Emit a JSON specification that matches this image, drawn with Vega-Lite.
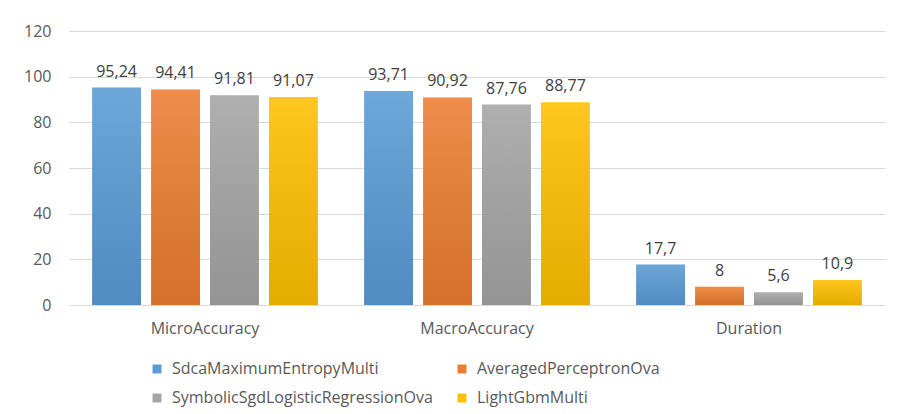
{
  "$schema": "https://vega.github.io/schema/vega-lite/v6.json",
  "autosize": "none",
  "padding": {"left": 69, "top": 31, "right": 13, "bottom": 109},
  "width": 816,
  "height": 274,
  "background": "white",
  "config": {
    "view": {"stroke": null},
    "font": "Open Sans",
    "locale": {"number": {"decimal": ",", "thousands": ".", "grouping": [3], "currency": ["", " €"]}},
    "axis": {"labelFont": "Open Sans", "labelColor": "#595959", "labelFontSize": 16}
  },
  "data": {
    "values": [
      {"metric": "MicroAccuracy", "model": "SdcaMaximumEntropyMulti", "value": 95.24},
      {"metric": "MicroAccuracy", "model": "AveragedPerceptronOva", "value": 94.41},
      {"metric": "MicroAccuracy", "model": "SymbolicSgdLogisticRegressionOva", "value": 91.81},
      {"metric": "MicroAccuracy", "model": "LightGbmMulti", "value": 91.07},
      {"metric": "MacroAccuracy", "model": "SdcaMaximumEntropyMulti", "value": 93.71},
      {"metric": "MacroAccuracy", "model": "AveragedPerceptronOva", "value": 90.92},
      {"metric": "MacroAccuracy", "model": "SymbolicSgdLogisticRegressionOva", "value": 87.76},
      {"metric": "MacroAccuracy", "model": "LightGbmMulti", "value": 88.77},
      {"metric": "Duration", "model": "SdcaMaximumEntropyMulti", "value": 17.7},
      {"metric": "Duration", "model": "AveragedPerceptronOva", "value": 8},
      {"metric": "Duration", "model": "SymbolicSgdLogisticRegressionOva", "value": 5.6},
      {"metric": "Duration", "model": "LightGbmMulti", "value": 10.9}
    ]
  },
  "encoding": {
    "x": {
      "field": "metric", "type": "nominal",
      "scale": {"domain": ["MicroAccuracy", "MacroAccuracy", "Duration"], "paddingInner": 0.17, "paddingOuter": 0.085},
      "axis": {"title": null, "labelAngle": 0, "domain": false, "ticks": false, "labelPadding": 15, "labelFontSize": 16}
    },
    "xOffset": {
      "field": "model", "type": "nominal",
      "scale": {"domain": ["SdcaMaximumEntropyMulti", "AveragedPerceptronOva", "SymbolicSgdLogisticRegressionOva", "LightGbmMulti"], "paddingInner": 0.17, "paddingOuter": 0}
    },
    "y": {
      "field": "value", "type": "quantitative",
      "scale": {"domain": [0, 120]},
      "axis": {"title": null, "values": [0, 20, 40, 60, 80, 100, 120], "domain": false, "ticks": false, "labelPadding": 18, "gridColor": "#d9d9d9", "gridWidth": 1.2, "labelFontSize": 16}
    }
  },
  "layer": [
    {
      "mark": {"type": "bar"},
      "encoding": {
        "color": {
          "field": "model", "type": "nominal",
          "scale": {"domain": ["SdcaMaximumEntropyMulti", "AveragedPerceptronOva", "SymbolicSgdLogisticRegressionOva", "LightGbmMulti"], "range": ["#5b9bd5", "#ed7d31", "#a5a5a5", "#ffc000"]},
          "legend": {
            "title": null, "orient": "none", "legendX": 80, "legendY": 330,
            "columns": 2, "direction": "horizontal", "symbolType": "square", "symbolSize": 80,
            "symbolStrokeWidth": 0, "labelFontSize": 16, "labelColor": "#595959", "labelFont": "Open Sans",
            "rowPadding": 13, "columnPadding": 21, "labelLimit": 400, "labelOffset": 7
          }
        }
      }
    },
    {
      "mark": {"type": "bar", "color": {"gradient": "linear", "x1": 0, "y1": 0, "x2": 0, "y2": 1, "stops": [{"offset": 0, "color": "rgba(255,255,255,0.12)"}, {"offset": 1, "color": "rgba(0,0,0,0.1)"}]}}
    },
    {
      "mark": {"type": "text", "baseline": "alphabetic", "dy": -11, "fontSize": 16, "color": "#404040", "font": "Open Sans"},
      "encoding": {"text": {"field": "value", "type": "quantitative", "format": ".2~f"}}
    }
  ]
}
